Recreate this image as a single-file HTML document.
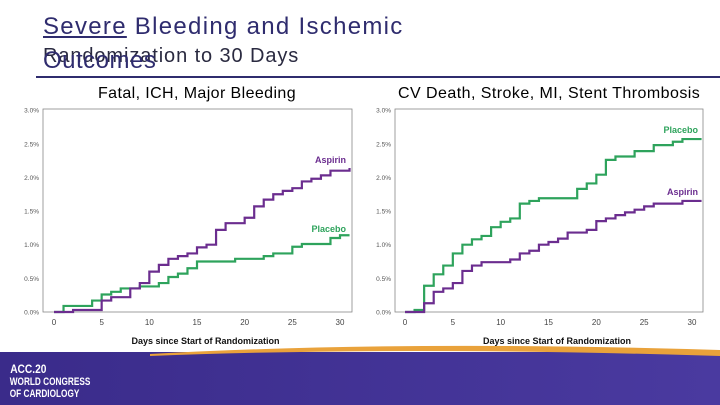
<!DOCTYPE html>
<html><head><meta charset="utf-8"><style>
body{margin:0;width:720px;height:405px;overflow:hidden;background:#fff;font-family:"Liberation Sans",sans-serif;position:relative}
.t{position:absolute;white-space:nowrap}
</style></head><body>
<div class="t" style="left:43px;top:13px;font-size:24px;color:#2f2c6e;letter-spacing:1.3px"><u>Severe</u> Bleeding and Ischemic</div>
<div class="t" style="left:43px;top:45px;font-size:20px;color:#2a2a40;letter-spacing:0.9px">Randomization to 30 Days</div>
<div class="t" style="left:43px;top:47px;font-size:24px;color:#2f2c6e;letter-spacing:0.5px">Outcomes</div>
<div style="position:absolute;left:36px;top:76px;width:684px;height:2px;background:#2f2c6e"></div>
<div class="t" style="left:98px;top:85px;font-size:16px;color:#000;letter-spacing:0.4px">Fatal, ICH, Major Bleeding</div>
<div class="t" style="left:398px;top:85px;font-size:16px;color:#000;letter-spacing:0.45px">CV Death, Stroke, MI, Stent Thrombosis</div>
<svg id="svg" width="720" height="405" style="position:absolute;left:0;top:0">
<defs><linearGradient id="fg" x1="0" x2="1"><stop offset="0" stop-color="#3a2b8a"/><stop offset="1" stop-color="#4a3aa0"/></linearGradient></defs>
<path d="M0,352 L720,352 L720,405 L0,405 Z" fill="url(#fg)"/>
<path d="M150,354 Q400,340 720,350 L720,356 Q400,346 150,356 Z" fill="#e9a23b"/>
<text x="12" y="373" fill="#fff" font-size="12" font-weight="bold" transform="scale(0.85,1)">ACC.20</text>
<text x="13" y="385" fill="#fff" font-size="11" font-weight="bold" transform="scale(0.75,1)">WORLD CONGRESS</text>
<text x="13" y="397" fill="#fff" font-size="11" font-weight="bold" transform="scale(0.75,1)">OF CARDIOLOGY</text>
</svg>
<script>
const xTicks=[0,5,10,15,20,25,30];
const yTicks=[0,0.5,1.0,1.5,2.0,2.5,3.0];
const yLabels=["0.0%","0.5%","1.0%","1.5%","2.0%","2.5%","3.0%"];
const leftAspDays=[0,2,4,5,6,8,9,10,11,12,13,14,15,16,17,18,20,21,22,23,24,25,26,27,28,29,31];
const leftAspVals=[0,0.03,0.03,0.17,0.22,0.35,0.43,0.6,0.7,0.79,0.83,0.87,0.96,1.0,1.22,1.32,1.4,1.57,1.67,1.75,1.8,1.84,1.94,1.98,2.03,2.1,2.14];
const leftPlaDays=[0,1,4,5,6,7,9,11,12,13,14,15,19,22,23,25,26,29,30,31];
const leftPlaVals=[0,0.09,0.17,0.26,0.3,0.35,0.38,0.43,0.52,0.57,0.65,0.75,0.79,0.83,0.87,0.97,1.01,1.1,1.14,1.14];
const rightPlaDays=[0,1,2,3,4,5,6,7,8,9,10,11,12,13,14,18,19,20,21,22,24,26,28,29,31];
const rightPlaVals=[0,0.03,0.39,0.56,0.69,0.87,1.0,1.08,1.13,1.26,1.34,1.39,1.61,1.65,1.69,1.83,1.91,2.04,2.26,2.31,2.39,2.48,2.53,2.57,2.57];
const rightAspDays=[0,2,3,4,5,6,7,8,11,12,13,14,15,16,17,19,20,21,22,23,24,25,26,29,31];
const rightAspVals=[0,0.13,0.3,0.35,0.43,0.61,0.69,0.74,0.78,0.87,0.91,1.0,1.04,1.09,1.18,1.22,1.35,1.39,1.44,1.48,1.52,1.57,1.61,1.65,1.65];
const NS='http://www.w3.org/2000/svg';
const svg=document.getElementById('svg');
function mk(tag,attrs){const e=document.createElementNS(NS,tag);for(const k in attrs)e.setAttribute(k,attrs[k]);svg.appendChild(e);return e;}
function chart(p){
  const X=d=>p.x0+d*(p.x30-p.x0)/30, Y=v=>312-v*67.3;
  const f=mk('rect',{x:p.fl,y:109,width:p.fr-p.fl,height:203,fill:'none',stroke:'#888','stroke-width':0.8});
  
  
  yTicks.forEach((v,i)=>{const t=mk('text',{x:p.fl-4,y:Y(v)+2.5,'font-size':6.5,fill:'#555','text-anchor':'end'});t.textContent=yLabels[i];
    
    });
  xTicks.forEach(d=>{const t=mk('text',{x:X(d),y:325,'font-size':8,fill:'#444','text-anchor':'middle'});t.textContent=d;
    
    });
  const xt=mk('text',{x:(p.fl+p.fr)/2+8,y:344,'font-size':9,'font-weight':'bold',fill:'#111','text-anchor':'middle'});xt.textContent='Days since Start of Randomization';
  
  
  p.series.forEach(s=>{let d='';s.days.forEach((dd,i)=>{const x=Math.min(X(dd),p.fr);const y=Y(s.vals[i]);d+=i===0?`M${x},${y}`:`H${x}V${y}`;});
    const path=mk('path',{d:d,fill:'none',stroke:s.color,'stroke-width':2.2});
    
    
    const l=mk('text',{x:s.lx,y:s.ly,'font-size':9,'font-weight':'bold',fill:s.color,'text-anchor':'end'});l.textContent=s.label;
    
    });
}
chart({id:'left',fl:43,fr:352,x0:54,x30:340,series:[
 {name:'placebo',label:'Placebo',color:'#2ea35c',days:leftPlaDays,vals:leftPlaVals,lx:346,ly:232},
 {name:'aspirin',label:'Aspirin',color:'#6b2d8f',days:leftAspDays,vals:leftAspVals,lx:346,ly:163}]});
chart({id:'right',fl:395,fr:703,x0:405,x30:692,series:[
 {name:'placebo',label:'Placebo',color:'#2ea35c',days:rightPlaDays,vals:rightPlaVals,lx:698,ly:133},
 {name:'aspirin',label:'Aspirin',color:'#6b2d8f',days:rightAspDays,vals:rightAspVals,lx:698,ly:195}]});
</script>
</body></html>
